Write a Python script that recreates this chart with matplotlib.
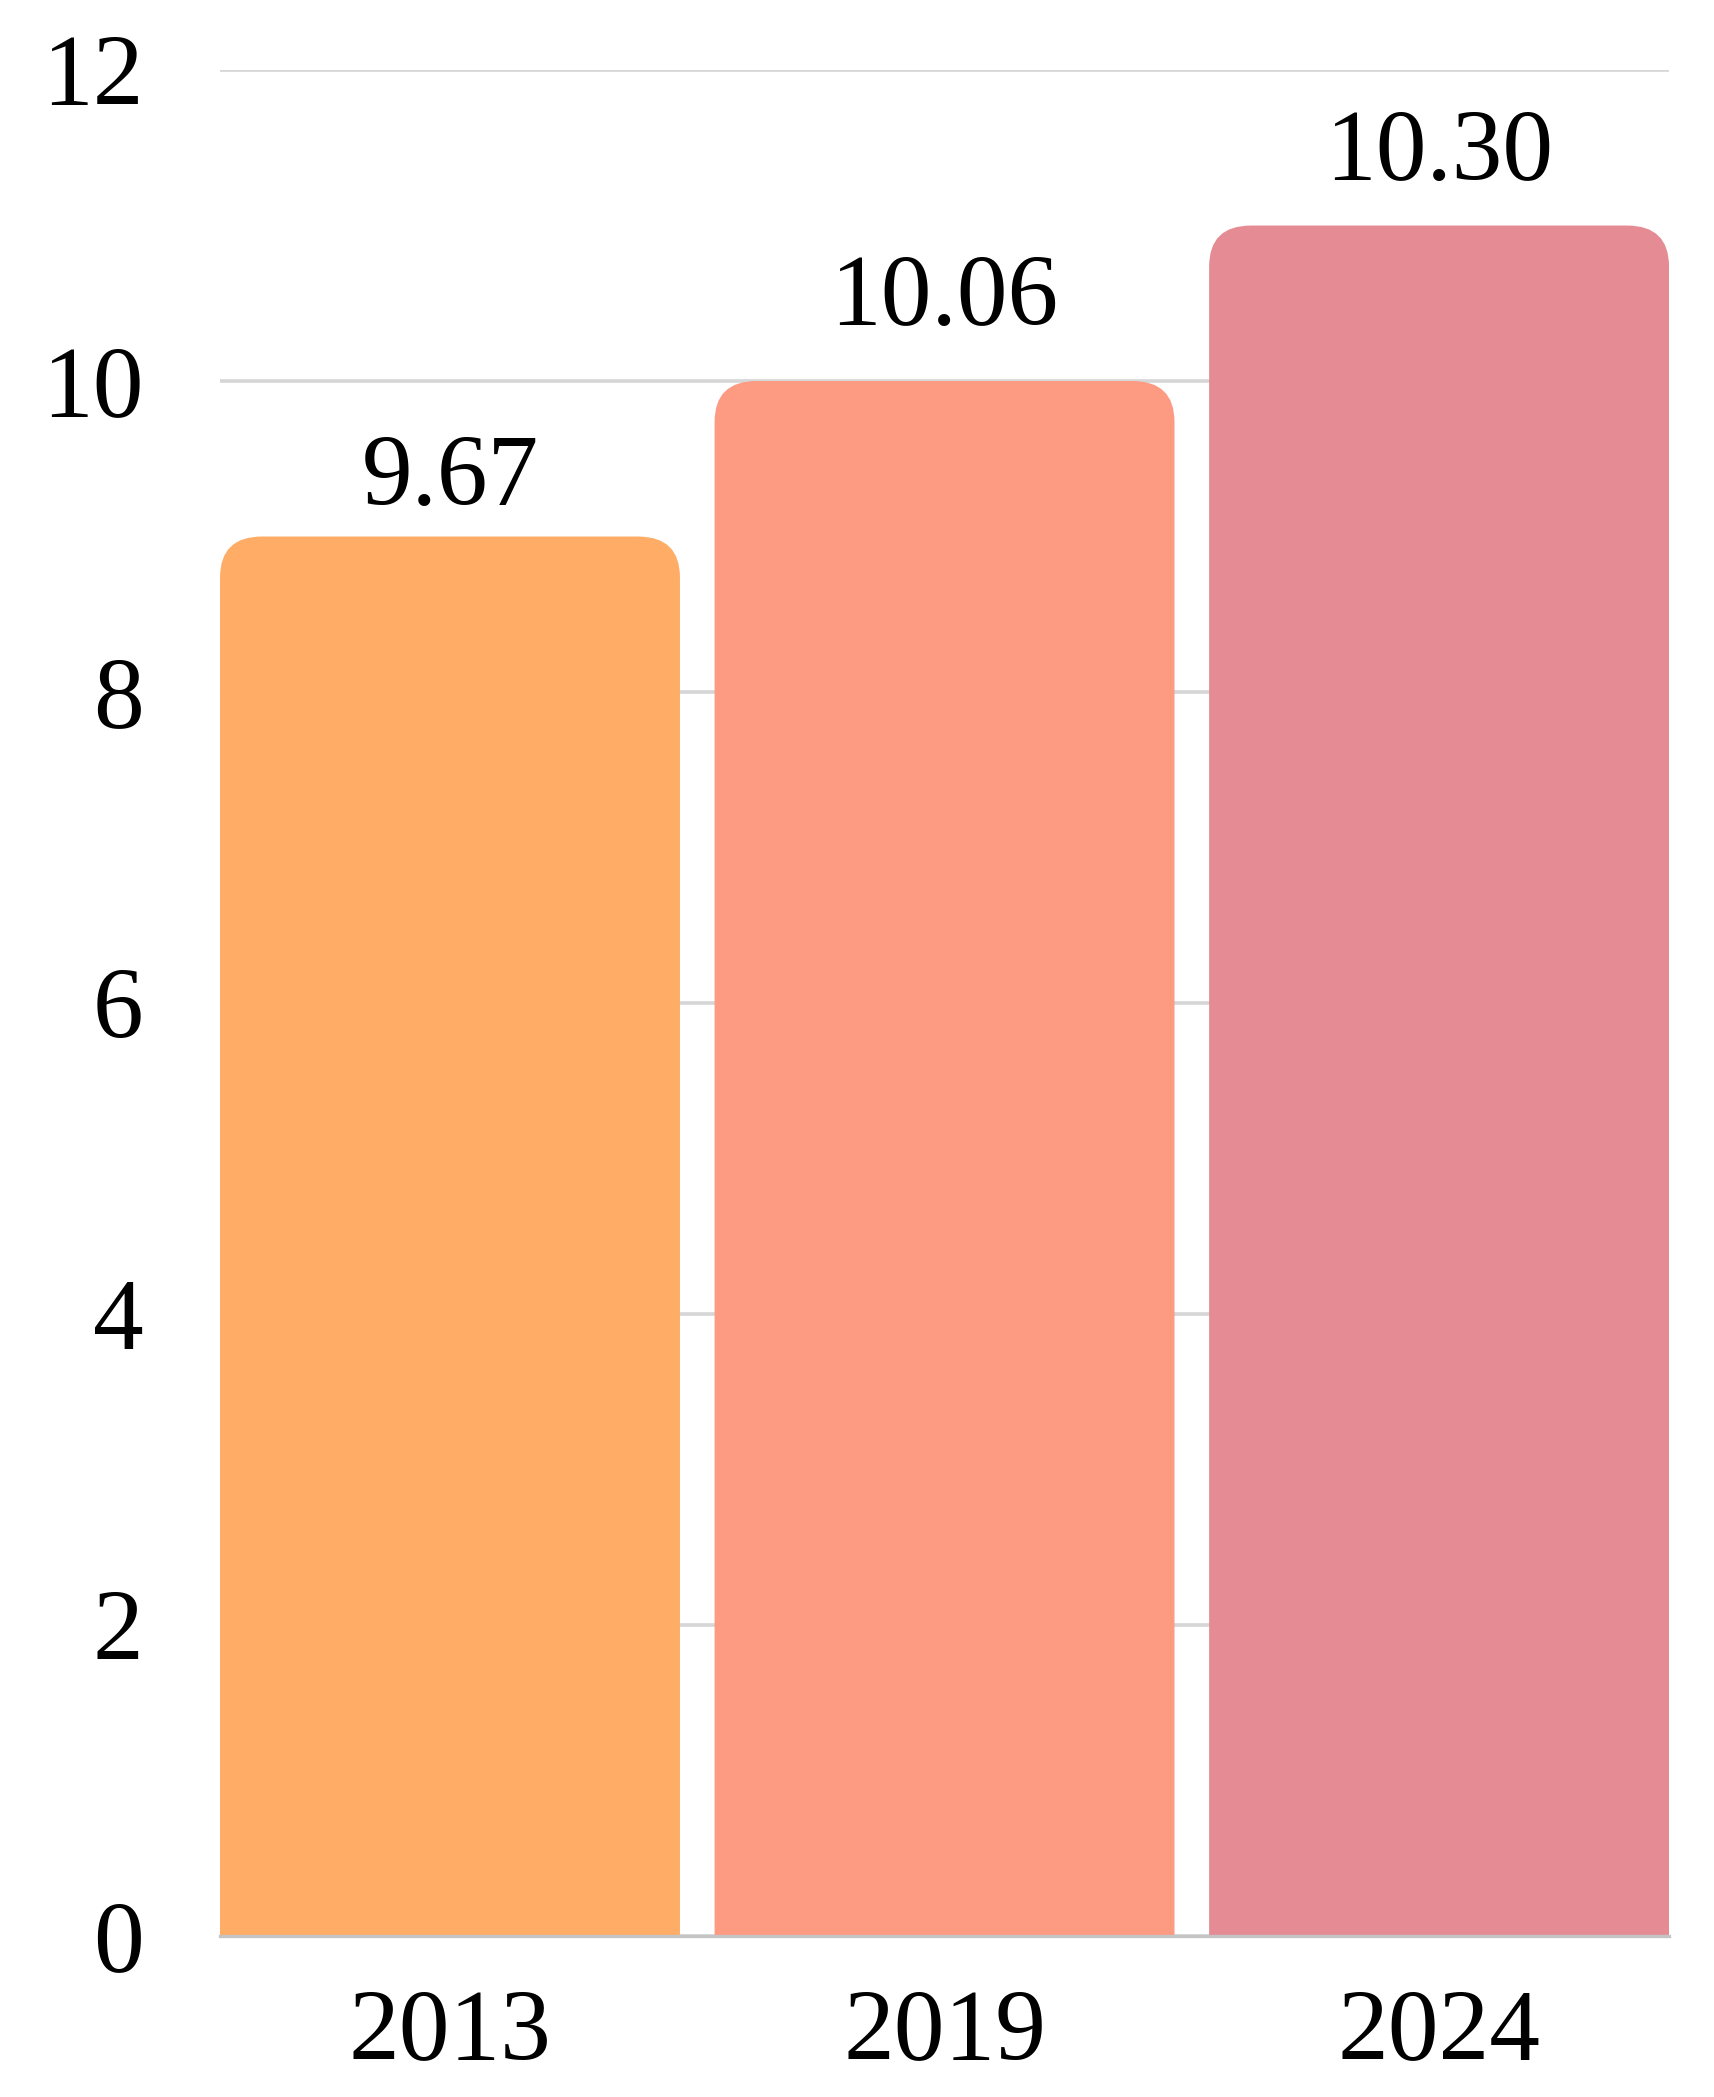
import matplotlib
matplotlib.use("Agg")
import matplotlib.pyplot as plt
from matplotlib.patches import FancyBboxPatch

years = ["2013", "2019", "2024"]
bar_heights = [9, 10, 11]          # bar tops as drawn in the picture
value_labels = ["9.67", "10.06", "10.30"]
colors = ["#FEAC66", "#FD9A82", "#E58B94"]
y_ticks = [0, 2, 4, 6, 8, 10, 12]

# gap between bar top and its label, in data units
label_gap = [0.20, 0.36, 0.29]

plt.rcParams['font.family'] = ['Liberation Serif', 'DejaVu Serif']

fig = plt.figure(figsize=(17.15, 20.97), dpi=100)
ax = fig.add_axes([0.1283, 0.0768, 0.8449, 0.8898])

x = range(len(years))
bars = ax.bar(x, bar_heights, width=0.93, color=colors, zorder=2)

# swap the plain rectangles for ones with rounded top corners
for rect in bars:
    rect.set_visible(False)
    p = FancyBboxPatch((rect.get_x(), -1), rect.get_width(), rect.get_height() + 1,
                       boxstyle="round,pad=0,rounding_size=0.085",
                       mutation_aspect=3.1, facecolor=rect.get_facecolor(),
                       edgecolor="none", zorder=2)
    ax.add_patch(p)

for i, h in enumerate(bar_heights):
    ax.text(i, h + label_gap[i], value_labels[i], ha='center', va='baseline',
            fontsize=73, color='black', zorder=3)

ax.set_xlim(-0.465, 2.465)
ax.set_ylim(0, 12)
ax.set_yticks(y_ticks)
ax.set_xticks(list(x))
ax.set_xticklabels(years)
ax.tick_params(axis='both', length=0, labelsize=73, colors='black')
ax.tick_params(axis='y', pad=55)
ax.tick_params(axis='x', pad=38)

ax.grid(axis='y', color='#d6d6d6', linewidth=2.6, zorder=0)
ax.set_axisbelow(True)
for s in ['top', 'right', 'left']:
    ax.spines[s].set_visible(False)
ax.spines['bottom'].set_color('#c4c4c4')
ax.spines['bottom'].set_linewidth(2.4)

fig.savefig("out.png", dpi=100)
